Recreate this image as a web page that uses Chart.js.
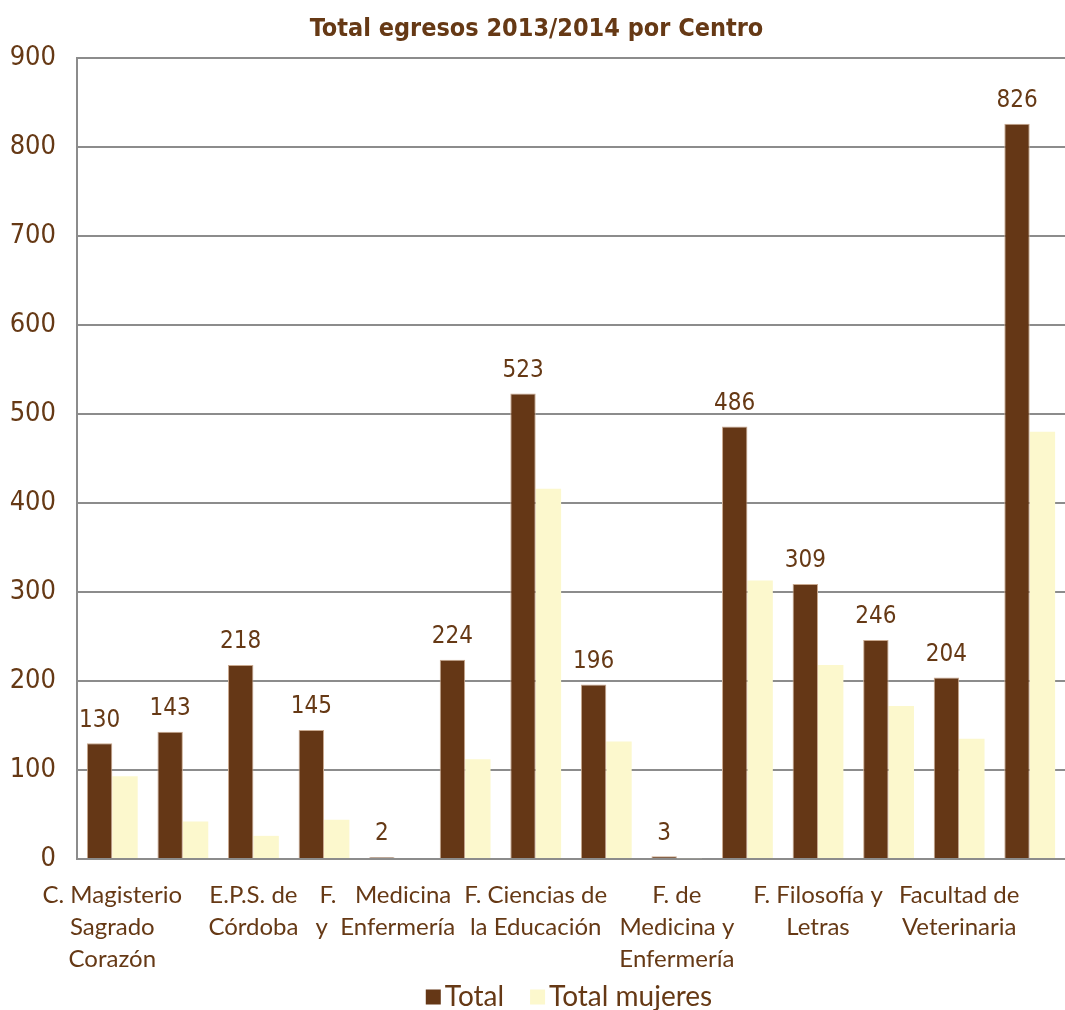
<!DOCTYPE html>
<html>
<head>
<meta charset="utf-8">
<script src="https://cdn.jsdelivr.net/npm/chart.js@4"></script>
<style>
  html, body { margin: 0; padding: 0; background: #fff; }
  #wrap { width: 1065px; height: 1010px; position: relative; }
</style>
</head>
<body>
<div id="wrap"><canvas id="chart"></canvas></div>
<script>
const centros = [
  ['C. Magisterio', 'Sagrado', 'Corazón'],
  'E.P.S. de Belmez',
  ['E.P.S. de', 'Córdoba'],
  'E.T.S.I. Agrónomos y de Montes',
  ['F.   Medicina   ', 'y  Enfermería   '],
  'F. de Ciencias',
  ['F. Ciencias de', 'la Educación'],
  'F. de Ciencias del Trabajo',
  ['F. de', 'Medicina y', 'Enfermería'],
  'F. de Derecho y CC. Económicas y Empresariales',
  ['F. Filosofía y', 'Letras'],
  'F. de Ciencias de la Educación',
  ['Facultad de', 'Veterinaria'],
  'Facultad de Derecho'
];
const total = [130, 143, 218, 145, 2, 224, 523, 196, 3, 486, 309, 246, 204, 826];
const totalMujeres = [93, 42, 26, 44, 0, 112, 416, 132, 1, 313, 218, 172, 135, 480];
const yTicks = [0, 100, 200, 300, 400, 500, 600, 700, 800, 900];

const brown = '#653716';
const cream = '#fcf8cd';
const textBrown = '#663915';
const numFont = '"DejaVu Sans Condensed", "DejaVu Sans", sans-serif';
const lblFont = 'Lato, "Open Sans", sans-serif';

// numbers over the Total bars
const valueLabels = {
  id: 'valueLabels',
  afterDatasetsDraw(chart) {
    const ctx = chart.ctx;
    const meta = chart.getDatasetMeta(0);
    ctx.save();
    ctx.fillStyle = textBrown;
    ctx.font = '24px ' + numFont;
    ctx.textAlign = 'center';
    ctx.textBaseline = 'bottom';
    meta.data.forEach((bar, i) => {
      ctx.fillText(String(total[i]), bar.x, bar.y - 11);
    });
    ctx.restore();
  }
};

// excel-like legend: tight box/text gap
const bottomLegend = {
  id: 'bottomLegend',
  afterDraw(chart) {
    const ctx = chart.ctx;
    const sets = chart.data.datasets;
    const box = 15, gapText = 4, gapItem = 26, y = 997;
    ctx.save();
    ctx.font = '28px ' + lblFont;
    const widths = sets.map(ds => box + gapText + ctx.measureText(ds.label).width);
    const full = widths.reduce((a, b) => a + b, 0) + gapItem * (sets.length - 1);
    let x = 569 - full / 2;
    sets.forEach((ds, i) => {
      ctx.fillStyle = ds.backgroundColor;
      ctx.fillRect(x, y - box / 2, box, box);
      ctx.fillStyle = textBrown;
      ctx.textAlign = 'left';
      ctx.textBaseline = 'middle';
      ctx.fillText(ds.label, x + box + gapText, y);
      x += widths[i] + gapItem;
    });
    ctx.restore();
  }
};

const ctx = document.getElementById('chart');
new Chart(ctx, {
  type: 'bar',
  data: {
    labels: centros,
    datasets: [{
      label: 'Total',
      data: total,
      backgroundColor: brown,
      borderColor: '#c9a98f',
      borderWidth: 1,
      barPercentage: 1.0,
      categoryPercentage: 0.72
    }, {
      label: 'Total mujeres',
      data: totalMujeres,
      backgroundColor: cream,
      borderWidth: 0,
      barPercentage: 1.0,
      categoryPercentage: 0.72
    }]
  },
  options: {
    responsive: true,
    maintainAspectRatio: false,
    animation: false,
    layout: { padding: { left: 8, right: 0, top: 4, bottom: 35 } },
    plugins: {
      title: {
        display: true,
        text: 'Total egresos 2013/2014 por Centro',
        color: textBrown,
        font: { family: numFont, size: 25, weight: 'bold' },
        padding: { top: 10, bottom: 14 }
      },
      legend: { display: false },
      tooltip: { enabled: false }
    },
    scales: {
      x: {
        grid: { display: false, drawTicks: false },
        border: { color: '#8c8c8c', width: 2 },
        afterFit: (scale) => { scale.paddingLeft = 0; scale.paddingRight = 0; scale.height = 116; },
        ticks: {
          autoSkip: false,
          maxRotation: 0,
          minRotation: 0,
          padding: 20,
          color: textBrown,
          font: { family: lblFont, size: 24, lineHeight: 1.33 },
          callback: function (v, i) {
            return i % 2 === 0 ? this.getLabelForValue(v) : '';
          }
        }
      },
      y: {
        min: 0,
        max: 900,
        afterBuildTicks: (axis) => { axis.ticks = yTicks.map(v => ({ value: v })); },
        afterFit: (scale) => { scale.width = 69; },
        grid: { color: '#8c8c8c', lineWidth: 2, drawTicks: false },
        border: { color: '#8c8c8c', width: 2 },
        ticks: {
          padding: 21,
          color: textBrown,
          font: { family: numFont, size: 27 }
        }
      }
    }
  },
  plugins: [valueLabels, bottomLegend]
});
</script>
</body>
</html>
